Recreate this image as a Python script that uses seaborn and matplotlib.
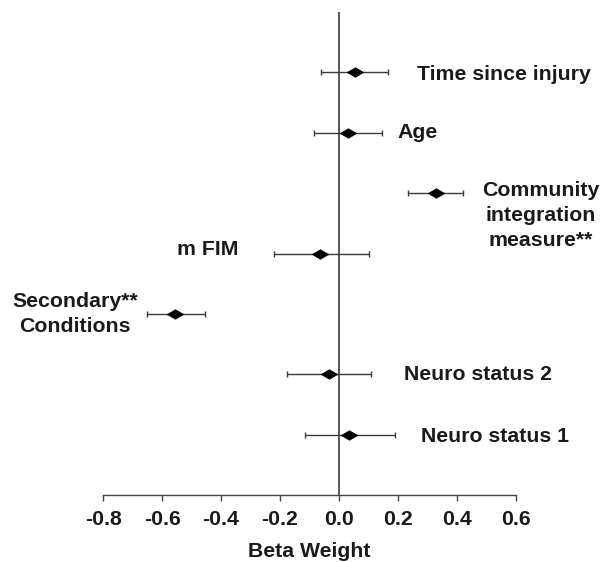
import matplotlib
matplotlib.use("Agg")
import matplotlib.pyplot as plt
import pandas as pd
import seaborn as sns

# %% Data
predictors = ["Time since injury", "Age", "Community\nintegration\nmeasure**",
              "m FIM", "Secondary**\nConditions", "Neuro status 2", "Neuro status 1"]
beta = [0.055, 0.03, 0.33, -0.065, -0.555, -0.035, 0.035]
ci_low = [-0.06, -0.085, 0.235, -0.22, -0.65, -0.175, -0.115]
ci_high = [0.165, 0.145, 0.42, 0.10, -0.455, 0.11, 0.19]

df = pd.DataFrame({"predictor": predictors, "beta": beta,
                   "lo": ci_low, "hi": ci_high})
df["pos"] = range(len(df))

# label placement: (x, horizontal alignment, y offset)
label_x = [0.265, 0.197, 0.685, -0.34, -0.895, 0.22, 0.278]
label_ha = ["left", "left", "center", "right", "center", "left", "left"]
label_dy = [0.03, 0.0, 0.37, -0.06, 0.0, 0.0, 0.03]

FS = 15.3

# %% Plot
sns.set_theme(style="white")
plt.rcParams["font.family"] = ["Liberation Sans", "DejaVu Sans"]
plt.rcParams["font.weight"] = "bold"

fig = plt.figure(figsize=(6.01, 5.62), dpi=100)
ax = fig.add_axes([0.1714, 0.1192, 0.6872, 0.8594])

ax.axvline(0, color="#555555", lw=1.4, zorder=1)
ax.errorbar(df["beta"], df["pos"],
            xerr=[df["beta"] - df["lo"], df["hi"] - df["beta"]],
            fmt="none", ecolor="#3a3a3a", elinewidth=1.0, capsize=2,
            capthick=1.0, zorder=2)
diamond = [(-1, 0), (0, 0.58), (1, 0), (0, -0.58), (-1, 0)]
sns.scatterplot(data=df, x="beta", y="pos", marker=diamond, s=140,
                color="black", edgecolor="black", linewidth=0.5,
                zorder=3, ax=ax, legend=False)

for i, row in df.iterrows():
    ax.text(label_x[i], row["pos"] + label_dy[i], row["predictor"],
            ha=label_ha[i], va="center", fontsize=FS, fontweight="bold",
            color="#1a1a1a", linespacing=1.38, clip_on=False)

ax.set_xlim(-0.8, 0.6)
ax.set_ylim(7, -1)
ax.set_xticks([-0.8, -0.6, -0.4, -0.2, 0.0, 0.2, 0.4, 0.6])
ax.set_xticklabels([f"{t:.1f}" for t in ax.get_xticks()])
ax.set_yticks([])
ax.set_ylabel("")
ax.set_xlabel("Beta Weight", fontsize=FS, fontweight="bold",
              color="#1a1a1a", labelpad=9)
ax.tick_params(axis="x", bottom=True, length=4, width=1.0, color="#444444",
               labelsize=FS, labelcolor="#1a1a1a", pad=7)
for lab in ax.get_xticklabels():
    lab.set_fontweight("bold")

sns.despine(ax=ax, left=True)
ax.spines["bottom"].set_color("#444444")
ax.spines["bottom"].set_linewidth(1.0)

fig.savefig("out.png", dpi=100)
